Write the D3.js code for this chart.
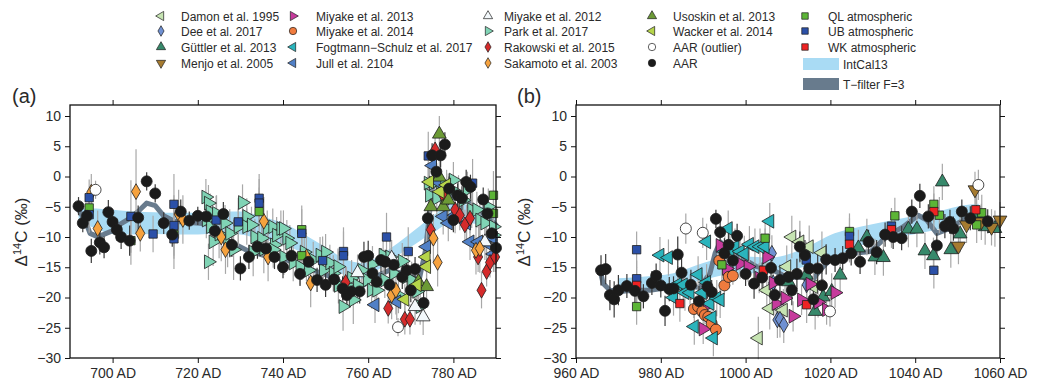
<!DOCTYPE html>
<html>
<head>
<meta charset="utf-8">
<script src="https://cdn.jsdelivr.net/npm/d3@7"></script>
<style>
  body { margin: 0; background: #fff; }
  svg text { font-family: "Liberation Sans", Arial, sans-serif; fill: #2a2a2a; }
</style>
</head>
<body>
<svg id="chart" width="1039" height="384"></svg>
<script>
// ---- data: [year, delta14C, error] ----
const aarA = [[692,-4.9,1.5],[693,-7.7,1.5],[694,-6.5,2],[695,-12.3,2],[697,-10.9,2],[698,-11.7,1.8],[699,-5.9,2],[700,-7.5,1.8],[701,-8.8,1.8],[702,-10,2],[704,-10.6,2.5],[706,-6.8,2],[708,-0.8,1.5],[710,-2.8,1.5],[712,-7.7,1.8],[714,-9.6,2],[716,-5.8,2],[718,-7.3,1.5],[720,-6.5,1.5],[722,-6.6,1.5],[724,-9,2],[726,-6.2,2],[728,-11.3,2],[730,-15.2,2],[732,-13.3,2],[734,-11.6,2],[736,-11.9,2],[738,-13.3,2],[740,-15,1.8],[742,-13.1,2],[744,-16.1,2],[746,-14.1,2],[748,-17.1,2],[750,-17.9,2],[752,-17,2],[754,-18.5,2],[755,-19.6,2],[756,-19,2],[758,-19,2],[759,-13.3,2.5],[760,-13.1,2.5],[761,-16,2],[762,-17.4,2],[763,-13.8,2],[764,-14.1,2],[765,-17.9,2],[766,-14.6,2],[768,-16.6,2],[769,-15.5,2],[770,-18.8,2],[771,-15.3,2],[773,-20.9,2],[774,-6.9,2],[775,3.5,2],[776,0.8,2],[777,3.5,2],[778,5.3,2],[779,-2,2],[780,-7.2,2],[781,-3.1,2],[782,-3.6,2],[783,-0.9,2],[784,-1.7,2],[787,-3.8,2],[788,-6.1,2],[789,-9.4,2],[790,-11.8,2]];
const aarOutA = [[696,-2.2,1.5],[767,-24.9,1.5]];
const sakamotoA = [[695,-2.6,3],[696.5,-8.6,3],[705.5,-2.5,7],[706.5,-9.4,3],[715.5,-6.2,4],[716.5,-7.1,4],[725.5,-10,4],[726.5,-12.1,4],[735.5,-7.4,4],[736.5,-13.3,4],[745.5,-13.3,4],[746.5,-17.6,4],[765.5,-19.6,4],[766.5,-18.8,4],[775.3,-10.2,4],[776.3,-14.2,4],[785.3,-12.2,4],[786.2,-11.9,4]];
const ubA = [[694.5,-3.5,3],[694.5,-6.3,3],[704.3,-6.6,6],[709.5,-9.5,3],[714.4,-4.6,5],[714.4,-8.1,5],[714.4,-10.3,5],[724.3,-7.2,4],[729.5,-7.5,4],[734.4,-3.6,4],[734.4,-4.4,4],[744.4,-9.4,4],[749.3,-13.9,4],[754.2,-12.4,4],[754.2,-13.1,4],[764.3,-10,4],[769.4,-12.4,4],[774.1,3.4,4],[784.5,-1.1,4]];
const qlA = [[694.5,-5.2,3],[704.3,-10.6,4],[714.4,-9.6,4],[734.4,-5.8,4],[744.4,-8.8,4],[744.4,-13.1,4],[789.4,-3.1,4],[789.4,-6.1,4]];
const wkA = [];
const parkA = [[721.9,-3.4,3],[722.5,-4.4,3],[722.9,-5.8,3],[722,-7.2,3],[723,-8.3,3],[723.6,-10.8,4],[722.5,-14.1,3],[724.4,-6.1,3],[725,-9.5,4],[726.4,-7.7,3],[727,-11,4],[727.5,-9.4,4],[728.4,-12.1,5],[730.5,-4.3,3],[729.5,-8.3,3],[731.5,-6.6,3],[731.5,-8.3,3],[732.6,-8,3],[733,-12.5,4],[733.4,-10,3],[735,-10.2,3],[735.5,-12,4],[736.3,-8.6,3],[737.6,-8.3,3],[738,-11.3,3],[738.5,-9.7,3],[739.5,-8.6,3],[740.9,-10.2,3],[740.2,-13.3,3],[737.7,-12.1,3],[740.1,-8.6,3],[741.6,-11,3],[742.4,-14.3,3],[744,-14.9,3],[745,-12.5,3],[746,-15.5,3],[747.1,-13.8,3],[748.7,-13,3],[749.5,-15.5,3],[750,-12.5,3],[751,-14.3,3],[751.8,-16,3],[752.9,-14.9,3],[753,-18,3],[754.1,-21.5,4],[754.9,-17.9,3],[756.1,-16.8,3],[756.5,-20.4,4],[757.5,-18,3],[758.5,-15.5,3],[759.8,-17.1,3],[760.8,-18.8,3],[761,-14.5,3],[762,-18.8,3],[763.5,-13,3],[763.9,-17.1,3],[765.1,-13.3,3],[766,-16,3],[767.1,-19.6,3],[768,-14,3],[769,-16.6,3],[770.2,-17.1,3],[771.4,-19,3],[772.2,-21.5,3],[774.1,-1.1,3],[774.4,-3.1,3],[775.3,-1.1,3],[776.1,-3.6,3],[776.9,-0.9,3],[778,-4.2,3],[778.8,-2.5,3],[780,-0.6,3],[781.2,-2.8,3],[782.3,-3.9,3],[783.3,-2.2,3],[784.3,-5.5,3],[785.5,-5.5,3],[786.2,-7.2,3],[787.4,-7.7,3],[788.2,-5,3],[789.4,-8.3,3],[789.4,-9.7,3]];
const jullA = [[761.6,-21.2,3],[766.7,-20.7,3],[773.7,-11.6,3],[775.1,1.8,3],[776.1,-0.8,3],[777.6,-6.6,3],[778.8,-7.7,3],[780.4,-6.4,3],[783.1,-7.7,3],[783.9,-10.8,3],[785.9,-10.8,3],[787.8,-11,3],[789.4,-10.2,3],[789.4,-12.8,3]];
const rakowskiA = [[754.7,-17.5,2.5],[764.7,-21.8,2.5],[768.6,-23.6,2.5],[769.8,-23.6,2.5],[774.7,-8.8,2.5],[775.7,4.4,2.5],[777.6,-3.1,2.5],[780.4,-5.5,2.5],[781.5,-6.4,2.5],[782.7,-8,2.5],[783.9,-6.9,2.5],[785.8,-13.3,2.5],[786.6,-18.8,3],[787.8,-15.7,2.5],[788.6,-14.2,2.5],[789.8,-13.3,2.5]];
const usoskinA = [[776.7,7,3],[774.7,-5,3],[776.7,-0.1,3],[777.6,-5,3],[778.8,-3.9,3],[771.8,-17.4,3],[773.7,-18.2,3]];
const wackerA = [[768.6,-20.3,2.5],[773.6,-13.3,2.5],[773.7,-14.9,2.5],[774.4,-0.9,2.5],[776.9,-2.5,2.5],[778.4,-1.4,2.5],[771.5,-17.9,2.5]];
const miyake12A = [[757.5,-15.9,3],[765.5,-13.5,3],[771,-21.5,3],[772.9,-23.2,3],[787.4,-10.8,3]];

const aarB = [[965.9,-15.5,2.5],[967,-15.3,2.5],[968,-19.6,2.5],[969,-20.3,3],[970,-18.8,2.5],[972,-18.1,2],[973.9,-18.9,2],[975.9,-19.8,2],[977.9,-17.6,2],[978.9,-16.4,2],[980,-18,2],[981,-22.2,2.5],[982,-18.6,2],[983,-18.5,2],[984,-12.9,3],[984.9,-15.9,2.5],[987.1,-17.9,2.5],[989,-20.6,2.5],[991,-18.2,2],[992,-19.1,2],[993,-7,1.5],[994,-9.2,2],[995,-12.7,2.5],[996,-11.3,2],[997,-13.9,2],[998,-9.8,2],[1000,-16.1,2],[1002,-17.7,2.5],[1003.9,-16.7,2.5],[1006,-15.1,2.5],[1006.9,-19.6,2.5],[1008.1,-17.1,2.5],[1010.1,-16.6,2.5],[1010.9,-18.8,2.5],[1012.1,-16.1,2.5],[1012.8,-11.6,2.5],[1014,-13,2.5],[1015,-15.2,2.5],[1016,-20.3,2.5],[1017,-15.2,2.5],[1018,-18,2.5],[1019,-13.7,2.5],[1021.1,-13.8,2],[1022.9,-13.5,2],[1024.9,-12.7,2],[1027,-14.1,2],[1029,-10.8,2],[1030.9,-12.5,2],[1032.9,-9.6,2],[1034.8,-10,2],[1036.8,-10.2,2],[1039.2,-5.8,2],[1041.1,-3.2,2],[1043.1,-6.6,2],[1045.1,-11.4,2],[1047,-8.2,2],[1048.2,-7.5,2],[1049,-8.6,2],[1051,-5.8,2],[1053,-6.9,2],[1057.1,-7.4,2]];
const aarOutB = [[985.9,-8.6,2.5],[989.9,-9.3,2.5],[1019.9,-22.3,2.5],[1054.9,-1.4,2.5]];
const fogtmannB = [[979.8,-13,3],[981.8,-13.4,3],[983,-20,3],[984,-17.8,3],[985.3,-17.9,3],[985.7,-19.2,3],[986.9,-19.2,3],[987.9,-24.8,3],[988.8,-16.2,3],[989.8,-19.2,3],[990.8,-17.5,3],[990.8,-10.8,3],[991.6,-21,3],[992.1,-23.3,3],[992.4,-26.7,3],[993.2,-20.1,3],[994,-20.4,3],[995.1,-12.4,3],[995.9,-8.6,3],[996.3,-12.1,3],[997.5,-11.6,3],[998.7,-12.4,3],[999.7,-12.8,3],[1000.9,-11.2,3],[1002.2,-11.6,3],[1003.4,-11.6,3],[1004.6,-11.6,3],[1005.7,-7.4,3]];
const miyake14B = [[987.8,-21.9,1.5],[988.8,-21.5,1.5],[989.8,-22.3,1.5],[990.4,-22.9,1.5],[991.2,-23.2,1.5],[992,-24.3,1.5],[993,-25.3,1.5],[993.8,-13.9,1.5],[995,-18,1.5],[996,-16.6,1.5],[997,-16.4,1.5]];
const miyake13B = [[990,-25.2,2.5],[990.4,-21.5,2.5],[994,-11.4,2.5],[995.5,-15.2,2.5],[998.7,-14.4,2.5],[1000.6,-14.9,2.5],[1003.2,-16.8,2.5],[1005,-13.3,2.5],[1006.5,-17.6,2.5],[1007.2,-21,2.5],[1009.3,-20.1,2.5],[1011.2,-23.1,2.5],[1013.2,-20.4,2.5],[1015.2,-17.8,2.5],[1017.1,-20.8,2.5],[1019.1,-22,2.5],[1021.1,-19.2,2.5]];
const damonB = [[1003,-26.7,3.5],[1005,-18.8,3.5],[1005.7,-21.8,3.5],[1010.9,-10,3.5],[1012.8,-10.8,3.5],[1015,-11.6,3.5],[1018,-12.6,3.5],[1009.7,-14.9,3.5],[1008.9,-22.1,3.5],[1016,-18.2,3.5]];
const deeB = [[1006.2,-12.7,3],[1007.5,-23.7,3],[1006.5,-17.6,3],[1008.1,-23.6,3],[1009,-24.5,3],[1014.4,-17.9,3]];
const guttlerB = [[1010.1,-17.4,3],[1014.3,-16.3,3],[1016.4,-22.3,3],[1018.3,-19.9,3],[1020.3,-19,3],[1022.3,-16.3,3],[1026.6,-11.8,3],[1028.6,-10,3],[1030.5,-13.3,3],[1032.5,-13.4,3],[1038.4,-8.7,3],[1040.4,-8.7,3],[1042.3,-12.3,3],[1044.3,-13.1,3],[1046.4,-0.9,3],[1048.4,-12.1,3],[1050.6,-9.5,3],[1054.5,-6.1,3],[1056.5,-8.3,3],[1058.8,-8.6,3]];
const menjoB = [[1050.2,-11.5,3],[1052.1,-8,3],[1054.1,-2.2,3],[1055.6,-7.5,3],[1058,-8.4,3],[1060,-7.2,3]];
const ubB = [[974.3,-12.1,3],[974.3,-16.9,3],[1014.3,-13.8,3],[1024.5,-9.9,3],[1034.4,-8.2,3],[1044.4,-15.5,3]];
const qlB = [[974.3,-21.5,3],[994.4,-14.6,3],[1004.6,-10.2,3],[1024.5,-9.1,3],[1035.2,-6.5,3],[1044.4,-4.6,3],[1045.7,-6.4,3],[1054.5,-8,3],[1055.7,-6,3]];
const wkB = [[974.3,-18,3],[984.5,-21,3],[1004.2,-15.5,3],[1014.4,-21.2,3],[1024.5,-11.2,3],[1034.4,-8.8,3],[1044.4,-5.8,3],[1054.3,-5.5,3]];

// IntCal13 band: [year, mid, half width]
const intcalA = [[692,-6.5,1.2],[695,-6.8,1.5],[700,-7.5,2],[705,-7.7,1.9],[710,-7.7,1.8],[715,-7.8,1.8],[720,-7.8,1.8],[725,-7.6,1.8],[730,-7.7,1.9],[735,-8.5,1.9],[740,-9.4,1.7],[745,-11.2,1.6],[750,-13.2,1.5],[755,-15.1,1.3],[759,-15.6,1.3],[763,-14,1.1],[767,-12,1],[771,-10,1.2],[775,-8,1.4],[780,-6,1.5],[785,-6.3,1.5],[790,-7,1.5]];
const intcalB = [[970,-17.8,1],[975,-17.7,1.1],[983,-17.1,1.1],[990,-15.7,1.4],[998,-14.6,1.4],[1006,-14.7,1.3],[1013,-13.6,1.5],[1021,-11.3,1.9],[1029,-9.5,1.5],[1037,-8.4,1.5],[1045,-7.3,1.5],[1052,-6.2,1.5],[1055,-5.9,1.4]];
// T-filter F=3
const tfilterA = [[692,-5.5],[693.5,-7.2],[694.7,-9.4],[696.3,-9.9],[697.8,-9.6],[700.2,-8.9],[701.7,-7.9],[704.1,-6.9],[706.4,-5.5],[708,-4.4],[710,-4.8],[712,-6.5],[714.5,-7.4],[718,-7.6],[722,-7.8],[726.8,-10.5],[731.5,-12.2],[736.2,-13.2],[740.9,-13.8],[745,-15],[750,-16.2],[755,-18],[758,-18.5],[761,-16.8],[765,-15.5],[769,-16.2],[772,-17],[773.5,-12],[775,-2],[776.5,0],[778,-1],[780,-3.5],[783,-4],[786,-5.5],[790,-8]];
const tfilterB = [[965.7,-15.5],[966.4,-17.7],[968,-18.8],[970.4,-19],[973.5,-18.8],[977.4,-18.8],[981.4,-18.4],[985.3,-18.2],[989.2,-18.3],[991.6,-16],[992.8,-12.7],[994,-10.8],[996,-12.2],[998.7,-13.3],[1002.6,-14.9],[1006.5,-15.5],[1009.7,-16.6],[1013.6,-16.6],[1015.2,-17.7],[1017.5,-15.5],[1019.9,-13.8],[1022.3,-13.3],[1025.5,-12.7],[1029.5,-12.4],[1033.3,-9.9],[1037.2,-8.3],[1040.7,-6.4],[1042.7,-7.2],[1045.1,-9.4],[1047.4,-8.8],[1050.6,-7.5],[1053,-6.6],[1056,-6.8]];

const xTicksA = [700, 720, 740, 760, 780];
const xTicksB = [960, 980, 1000, 1020, 1040, 1060];
const yTicks = [-30, -25, -20, -15, -10, -5, 0, 5, 10];

const series = {
  damon:    { name: 'Damon et al. 1995', shape: 'left', fill: '#c6e4b2', a: [], b: damonB },
  dee:      { name: 'Dee et al. 2017', shape: 'diamond', fill: '#6f90d2', a: [], b: deeB },
  guttler:  { name: 'Güttler et al. 2013', shape: 'up', fill: '#37896b', a: [], b: guttlerB },
  menjo:    { name: 'Menjo et al. 2005', shape: 'down', fill: '#a67b30', a: [], b: menjoB },
  miyake13: { name: 'Miyake et al. 2013', shape: 'right', fill: '#c63a9c', a: [], b: miyake13B },
  miyake14: { name: 'Miyake et al. 2014', shape: 'circle', fill: '#f07b3e', a: [], b: miyake14B },
  fogtmann: { name: 'Fogtmann\u2212Schulz et al. 2017', shape: 'left', fill: '#2bb4bc', a: [], b: fogtmannB },
  jull:     { name: 'Jull et al. 2104', shape: 'left', fill: '#5180c6', a: jullA, b: [] },
  miyake12: { name: 'Miyake et al. 2012', shape: 'up', fill: '#f3f8fb', a: miyake12A, b: [] },
  park:     { name: 'Park et al. 2017', shape: 'right', fill: '#80d4b5', a: parkA, b: [] },
  rakowski: { name: 'Rakowski et al. 2015', shape: 'diamond', fill: '#d52b2b', a: rakowskiA, b: [] },
  sakamoto: { name: 'Sakamoto et al. 2003', shape: 'diamond', fill: '#f6a23e', a: sakamotoA, b: [] },
  usoskin:  { name: 'Usoskin et al. 2013', shape: 'up', fill: '#6c9a36', a: usoskinA, b: [] },
  wacker:   { name: 'Wacker et al. 2014', shape: 'left', fill: '#b6d54a', a: wackerA, b: [] },
  aarOut:   { name: 'AAR (outlier)', shape: 'circle', fill: '#ffffff', a: aarOutA, b: aarOutB },
  aar:      { name: 'AAR', shape: 'circle', fill: '#1b1b1b', a: aarA, b: aarB, dark: true },
  ql:       { name: 'QL atmospheric', shape: 'square', fill: '#5cb536', a: qlA, b: qlB },
  ub:       { name: 'UB atmospheric', shape: 'square', fill: '#2b50a8', a: ubA, b: ubB },
  wk:       { name: 'WK atmospheric', shape: 'square', fill: '#ee2323', a: wkA, b: wkB }
};
const drawOrder = ['park','damon','dee','guttler','menjo','miyake13','miyake14','fogtmann','jull','miyake12',
  'rakowski','sakamoto','usoskin','wacker','ql','ub','wk','aar','aarOut'];
const legendCols = [
  ['damon','dee','guttler','menjo'],
  ['miyake13','miyake14','fogtmann','jull'],
  ['miyake12','park','rakowski','sakamoto'],
  ['usoskin','wacker','aarOut','aar'],
  ['ql','ub','wk']
];

const bandColor = '#a9dbf4';
const tfColor = '#687b8d';

const svg = d3.select('#chart');
const frameTop = 105, frameBottom = 358;
const y = d3.scaleLinear().domain([-30, 10]).range([358, 116]);

const shapeSizes = { circle: 95, square: 70, diamond: 72, up: 82, down: 82, left: 82, right: 82 };
const rot = { up: 0, down: 180, left: -90, right: 90 };
function symPath(shape, scale) {
  const size = shapeSizes[shape] * scale;
  let t = d3.symbolCircle;
  if (shape === 'square') t = d3.symbolSquare;
  else if (shape === 'diamond') t = d3.symbolDiamond;
  else if (shape in rot) t = d3.symbolTriangle;
  return d3.symbol().type(t).size(size)();
}
function symTransform(shape, px, py) {
  const r = rot[shape] || 0;
  return `translate(${px},${py})` + (r ? ` rotate(${r})` : '');
}

const panels = [
  { key: 'a', x0: 70, x1: 496, dom: [690, 790], ticks: xTicksA, band: intcalA, tf: tfilterA, label: '(a)', lx: 12, ylx: 27 },
  { key: 'b', x0: 576, x1: 1000, dom: [960, 1060], ticks: xTicksB, band: intcalB, tf: tfilterB, label: '(b)', lx: 517, ylx: 530 }
];

panels.forEach(p => {
  const x = d3.scaleLinear().domain(p.dom).range([p.x0, p.x1]);
  const g = svg.append('g');

  // IntCal13 band
  const area = d3.area()
    .x(d => x(d[0]))
    .y0(d => y(d[1] - d[2]))
    .y1(d => y(d[1] + d[2]))
    .curve(d3.curveMonotoneX);
  g.append('path').datum(p.band).attr('d', area).attr('fill', bandColor);

  // T-filter
  const line = d3.line().x(d => x(d[0])).y(d => y(d[1]));
  g.append('path').datum(p.tf).attr('d', line)
    .attr('fill', 'none').attr('stroke', tfColor)
    .attr('stroke-width', 5).attr('stroke-linejoin', 'round').attr('stroke-linecap', 'round');

  // error bars
  drawOrder.forEach(k => {
    const s = series[k];
    g.selectAll(null).data(s[p.key]).join('line')
      .attr('x1', d => x(d[0])).attr('x2', d => x(d[0]))
      .attr('y1', d => y(d[1] - d[2])).attr('y2', d => y(d[1] + d[2]))
      .attr('stroke', s.dark ? '#3a3a3a' : '#a8a8a8')
      .attr('stroke-width', 1.2);
  });

  // markers
  drawOrder.forEach(k => {
    const s = series[k];
    g.selectAll(null).data(s[p.key]).join('path')
      .attr('d', symPath(s.shape, 1))
      .attr('transform', d => symTransform(s.shape, x(d[0]), y(d[1])))
      .attr('fill', s.fill)
      .attr('stroke', '#1e1e1e')
      .attr('stroke-width', 0.8);
  });

  // axes
  g.append('g').attr('transform', `translate(0,${frameBottom})`)
    .call(d3.axisBottom(x).tickValues(p.ticks).tickFormat(d => d + ' AD').tickSize(5).tickSizeOuter(0).tickPadding(5.5));
  g.append('g').attr('transform', `translate(0,${frameTop})`)
    .call(d3.axisTop(x).tickValues(p.ticks).tickFormat('').tickSize(5).tickSizeOuter(0));
  g.append('g').attr('transform', `translate(${p.x0},0)`)
    .call(d3.axisLeft(y).tickValues(yTicks).tickSize(5).tickSizeOuter(0).tickPadding(4));
  g.append('g').attr('transform', `translate(${p.x1},0)`)
    .call(d3.axisRight(y).tickValues(yTicks).tickFormat('').tickSize(5).tickSizeOuter(0));
  g.selectAll('.domain').remove();
  g.selectAll('.tick line').attr('stroke', '#111').attr('stroke-width', 1);
  g.selectAll('.tick text').style('font-size', '14px').style('font-family', '"Liberation Sans", Arial, sans-serif').attr('fill', '#2a2a2a');

  g.append('rect')
    .attr('x', p.x0).attr('y', frameTop)
    .attr('width', p.x1 - p.x0).attr('height', frameBottom - frameTop)
    .attr('fill', 'none').attr('stroke', '#111').attr('stroke-width', 1.3);

  // panel label
  g.append('text').attr('x', p.lx).attr('y', 103).style('font-size', '20px').text(p.label);

  // y label
  const yl = g.append('text')
    .attr('transform', `translate(${p.ylx},232) rotate(-90)`)
    .attr('text-anchor', 'middle')
    .style('font-size', '17px');
  yl.append('tspan').text('\u0394');
  yl.append('tspan').attr('dy', -6).style('font-size', '11px').text('14');
  yl.append('tspan').attr('dy', 6).text('C (\u2030)');
});

// legend
const colMarkX = [161, 293, 488, 652, 805];
const colTextX = [181, 316, 504, 673, 828];
const rowY = [16, 31, 47, 63];
const leg = svg.append('g');
legendCols.forEach((col, ci) => {
  col.forEach((k, ri) => {
    const s = series[k];
    leg.append('path')
      .attr('d', symPath(s.shape, s.shape === 'square' ? 0.6 : 0.45))
      .attr('transform', symTransform(s.shape, colMarkX[ci], rowY[ri]))
      .attr('fill', s.fill).attr('stroke', '#1e1e1e').attr('stroke-width', 0.7);
    leg.append('text').attr('x', colTextX[ci]).attr('y', rowY[ri] + 4.5)
      .style('font-size', '12px').text(s.name);
  });
});
leg.append('rect').attr('x', 803).attr('y', 58).attr('width', 36).attr('height', 12).attr('fill', bandColor);
leg.append('text').attr('x', 843).attr('y', 68.5).style('font-size', '12px').text('IntCal13');
leg.append('rect').attr('x', 803).attr('y', 78).attr('width', 36).attr('height', 12).attr('fill', tfColor);
leg.append('text').attr('x', 843).attr('y', 88.5).style('font-size', '12px').text('T\u2212filter F=3');
</script>
</body>
</html>
